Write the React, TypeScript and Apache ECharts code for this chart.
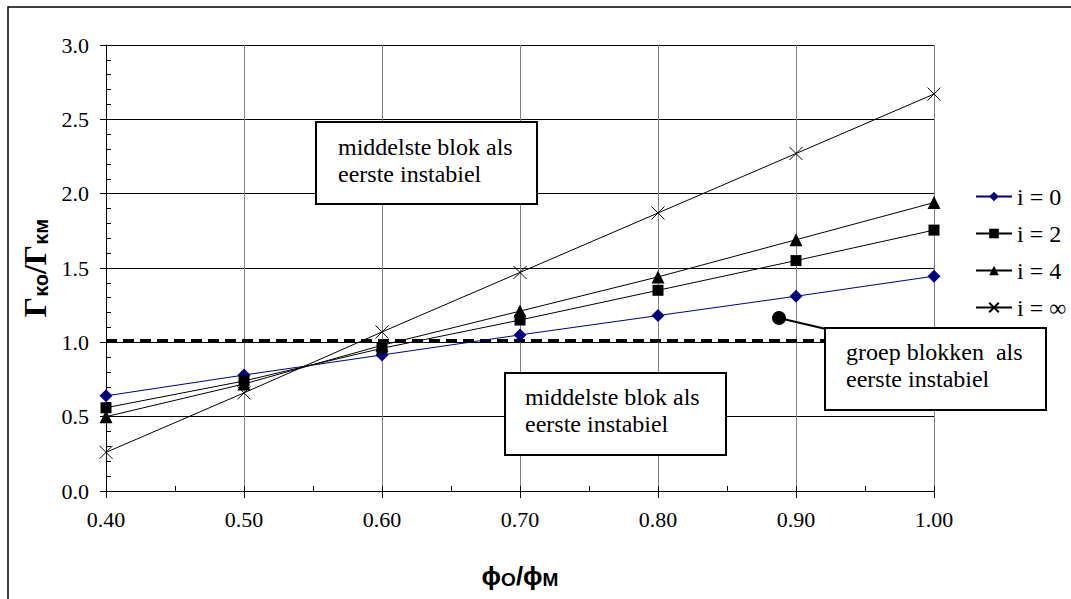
import React, { useEffect, useRef } from "react";
import * as echarts from "echarts";

const xValues = [0.4, 0.5, 0.6, 0.7, 0.8, 0.9, 1.0];
const seriesI0 = [0.64, 0.78, 0.915, 1.05, 1.18, 1.31, 1.445];
const seriesI2 = [0.56, 0.74, 0.96, 1.15, 1.35, 1.55, 1.755];
const seriesI4 = [0.5, 0.72, 0.98, 1.21, 1.44, 1.69, 1.94];
const seriesInf = [0.26, 0.66, 1.07, 1.47, 1.87, 2.27, 2.67];
const seriesNames = ["i = 0", "i = 2", "i = 4", "i = \u221e"];
const thresholdX = [0.4, 1.0];
const thresholdY = 1.01;

const SERIF = "Liberation Serif";
const SANS = "Liberation Sans";

const crossPath = "path://M0,0L10,10M10,0L0,10";

function pairs(ys: number[]) {
  return xValues.map((x, i) => [x, ys[i]]);
}

function boxText(x: number, y: number, lines: string[]) {
  return {
    type: "text",
    x,
    y,
    z: 101,
    style: {
      text: lines.join("\n"),
      fontFamily: SERIF,
      fontSize: 24,
      fill: "#000",
      lineHeight: 27,
      verticalAlign: "top",
    },
  };
}

export default function App() {
  const ref = useRef<HTMLDivElement>(null);
  useEffect(() => {
    if (!ref.current) return;
    const chart = echarts.init(ref.current, null, { renderer: "svg" });
    const lineBase = { type: "line", xAxisIndex: 0, yAxisIndex: 0, lineStyle: { width: 1 } };
    chart.setOption({
      animation: false,
      backgroundColor: "#fff",
      textStyle: { fontFamily: SERIF },
      grid: { left: 106, top: 45, right: 137, bottom: 108, containLabel: false },
      legend: {
        orient: "vertical",
        left: 970,
        top: 179,
        itemWidth: 36,
        itemHeight: 12,
        itemGap: 12,
        textStyle: { fontFamily: SERIF, fontSize: 24, color: "#000", lineHeight: 25 },
        data: seriesNames,
      },
      xAxis: [
        {
          type: "value",
          min: 0.4,
          max: 1.0,
          interval: 0.1,
          position: "bottom",
          axisLine: { show: true, onZero: false, lineStyle: { color: "#000", width: 1 } },
          axisTick: { show: true, inside: false, length: 7, lineStyle: { color: "#000" } },
          axisLabel: {
            formatter: (v: number) => v.toFixed(2),
            fontFamily: SERIF,
            fontSize: 22,
            color: "#000",
            margin: 17,
          },
          splitLine: { show: true, lineStyle: { color: "#808080", width: 1 } },
          name: "{p|\u03d5}{s|O}{p|/\u03d5}{s|M}",
          nameLocation: "middle",
          nameGap: 72,
          nameTextStyle: {
            rich: {
              p: { fontFamily: SANS, fontWeight: "bold", fontSize: 26, color: "#000", verticalAlign: "bottom" },
              s: { fontFamily: SANS, fontWeight: "bold", fontSize: 19, color: "#000", verticalAlign: "bottom" },
            },
          },
        },
        {
          type: "value",
          min: 0.4,
          max: 1.0,
          interval: 0.05,
          position: "bottom",
          offset: 0,
          axisLine: { show: false, onZero: false },
          axisTick: { show: true, inside: true, length: 5, lineStyle: { color: "#000" } },
          axisLabel: { show: false },
          splitLine: { show: false },
        },
      ],
      yAxis: [
        {
          type: "value",
          min: 0,
          max: 3,
          interval: 0.5,
          position: "left",
          axisLine: { show: true, onZero: false, lineStyle: { color: "#000", width: 1 } },
          axisTick: { show: true, inside: false, length: 6, lineStyle: { color: "#000" } },
          axisLabel: {
            formatter: (v: number) => v.toFixed(1),
            fontFamily: SERIF,
            fontSize: 22,
            color: "#000",
            margin: 17,
          },
          splitLine: { show: true, lineStyle: { color: "#000", width: 1 } },
          name: "{g|\u0393}{s|\u03ba\u03bf}{g|/\u0393}{s|\u03ba\u043c}",
          nameLocation: "middle",
          nameGap: 52,
          nameTextStyle: {
            rich: {
              g: { fontFamily: SERIF, fontWeight: "bold", fontSize: 32, color: "#000", verticalAlign: "bottom" },
              s: { fontFamily: SANS, fontWeight: "bold", fontSize: 20, color: "#000", verticalAlign: "bottom" },
            },
          },
        },
        {
          type: "value",
          min: 0,
          max: 3,
          interval: 0.1,
          position: "left",
          offset: 0,
          axisLine: { show: false, onZero: false },
          axisTick: { show: true, inside: true, length: 5, lineStyle: { color: "#000" } },
          axisLabel: { show: false },
          splitLine: { show: false },
        },
      ],
      series: [
        {
          type: "line",
          name: "threshold",
          data: thresholdX.map((x) => [x, thresholdY]),
          symbol: "none",
          lineStyle: { color: "#000", width: 3.5, type: [11, 6] },
          z: 1,
          silent: true,
        },
        {
          ...lineBase,
          name: seriesNames[0],
          data: pairs(seriesI0),
          symbol: "diamond",
          symbolSize: 13,
          itemStyle: { color: "#000080" },
          lineStyle: { color: "#000080", width: 1 },
        },
        {
          ...lineBase,
          name: seriesNames[1],
          data: pairs(seriesI2),
          symbol: "rect",
          symbolSize: 11,
          itemStyle: { color: "#000" },
          lineStyle: { color: "#000", width: 1 },
        },
        {
          ...lineBase,
          name: seriesNames[2],
          data: pairs(seriesI4),
          symbol: "triangle",
          symbolSize: 13,
          itemStyle: { color: "#000" },
          lineStyle: { color: "#000", width: 1 },
        },
        {
          ...lineBase,
          name: seriesNames[3],
          data: pairs(seriesInf),
          symbol: crossPath,
          symbolSize: 13,
          itemStyle: { color: "none", borderColor: "#000", borderWidth: 1 },
          lineStyle: { color: "#000", width: 1 },
        },
      ],
      graphic: [
        {
          type: "rect",
          shape: { x: 8, y: 7, width: 1200, height: 800 },
          style: { fill: "none", stroke: "#000", lineWidth: 1.5 },
          z: 100,
          silent: true,
        },
        {
          type: "rect",
          shape: { x: 316, y: 122, width: 221, height: 82 },
          style: { fill: "#fff", stroke: "#000", lineWidth: 2 },
          z: 100,
        },
        boxText(338, 133, ["middelste blok als", "eerste instabiel"]),
        {
          type: "rect",
          shape: { x: 505, y: 373, width: 221, height: 82 },
          style: { fill: "#fff", stroke: "#000", lineWidth: 2 },
          z: 100,
        },
        boxText(525, 383, ["middelste blok als", "eerste instabiel"]),
        {
          type: "line",
          shape: { x1: 779, y1: 318, x2: 826, y2: 329 },
          style: { stroke: "#000", lineWidth: 2 },
          z: 100,
        },
        {
          type: "circle",
          shape: { cx: 779, cy: 318, r: 7 },
          style: { fill: "#000" },
          z: 100,
        },
        {
          type: "rect",
          shape: { x: 825, y: 328, width: 221, height: 82 },
          style: { fill: "#fff", stroke: "#000", lineWidth: 2 },
          z: 100,
        },
        boxText(846, 338, ["groep blokken  als", "eerste instabiel"]),
      ],
    });
    return () => chart.dispose();
  }, []);
  return (
    <div
      ref={ref}
      style={{ position: "fixed", left: 0, top: 0, width: 1071, height: 599, background: "#fff" }}
    />
  );
}
